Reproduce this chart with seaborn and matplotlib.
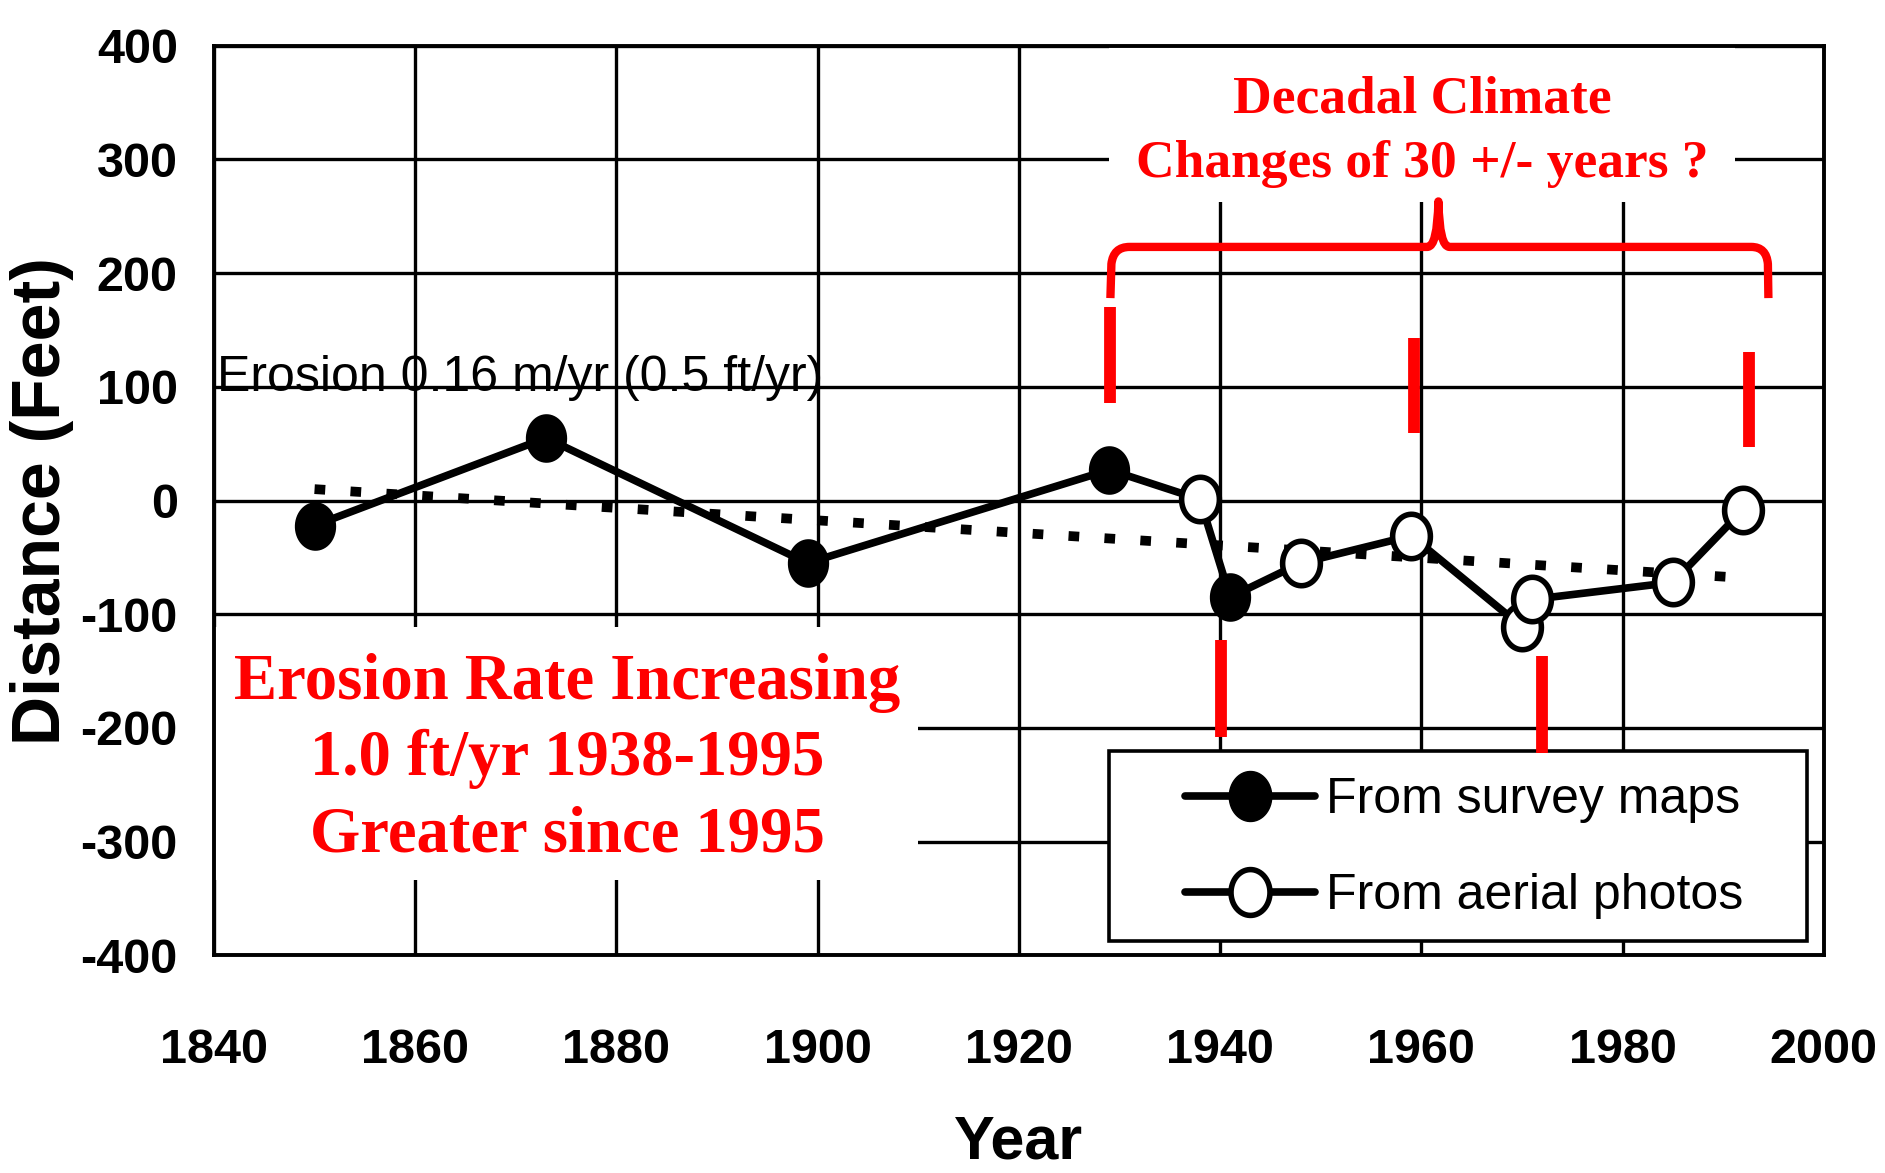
import numpy as np
import pandas as pd
import matplotlib
matplotlib.use("Agg")
import matplotlib.pyplot as plt
from matplotlib.path import Path
from matplotlib.patches import Rectangle, PathPatch
from matplotlib.lines import Line2D
import seaborn as sns

# ---------------- data ----------------
survey_years = [1850, 1873, 1899, 1929, 1941]
survey_dist = [-22, 55, -55, 27, -85]

aerial_years = [1938, 1948, 1959, 1970, 1971, 1985, 1992]
aerial_dist = [1, -55, -31, -111, -87, -72, -8]

trend_years = [1850, 1992]
trend_dist = [10, -68]

x_ticks = [1840, 1860, 1880, 1900, 1920, 1940, 1960, 1980, 2000]
x_tick_labels = ["1840", "1860", "1880", "1900", "1920", "1940", "1960", "1980", "2000"]
y_ticks = [400, 300, 200, 100, 0, -100, -200, -300, -400]
y_tick_labels = ["400", "300", "200", "100", "0", "-100", "-200", "-300", "-400"]

# climate-shift markers (red bars)
shift_years = [1929.05, 1940.1, 1959.3, 1972.0, 1992.6]
shift_top = [170, -123, 143, -137, 131]
shift_bottom = [86, -208, 59, -222, 47]

legend_labels = ["From survey maps", "From aerial photos"]

# ---------------- style ----------------
sns.set_style("white")
plt.rcParams["font.family"] = ["Liberation Sans", "DejaVu Sans"]
plt.rcParams["axes.unicode_minus"] = False
for k in ["text.color", "axes.labelcolor", "xtick.color", "ytick.color"]:
    plt.rcParams[k] = "black"

fig = plt.figure(figsize=(18.85, 11.73), dpi=100)
ax = fig.add_axes([0.1135, 0.1855, 0.854, 0.7756])

# ellipse marker (slightly taller than wide)
t = np.linspace(0, 2 * np.pi, 60)
ell = Path(np.column_stack([0.85 * np.cos(t), np.sin(t)]), closed=True)

all_df = pd.DataFrame({
    "year": survey_years + aerial_years,
    "dist": survey_dist + aerial_dist,
})
survey_df = pd.DataFrame({"year": survey_years, "dist": survey_dist})
aerial_df = pd.DataFrame({"year": aerial_years, "dist": aerial_dist})
trend_df = pd.DataFrame({"year": trend_years, "dist": trend_dist})

sns.lineplot(data=trend_df, x="year", y="dist", ax=ax, color="black", lw=7,
             linestyle=(0, (1.1, 2.6)), estimator=None, zorder=2)
sns.lineplot(data=all_df, x="year", y="dist", ax=ax, color="black", lw=5.5,
             estimator=None, sort=True, zorder=3)
sns.scatterplot(data=survey_df, x="year", y="dist", ax=ax, marker=ell, s=35 ** 2,
                color="black", edgecolor="black", linewidth=0, zorder=4)
sns.scatterplot(data=aerial_df, x="year", y="dist", ax=ax, marker=ell, s=32 ** 2,
                facecolor="white", edgecolor="black", linewidth=4, zorder=4)

ax.set_xlim(1840, 2000)
ax.set_ylim(-400, 400)
ax.set_xticks(x_ticks)
ax.set_xticklabels(x_tick_labels, fontweight="bold")
ax.set_yticks(y_ticks)
ax.set_yticklabels(y_tick_labels, fontweight="bold")
ax.tick_params(axis="x", length=0, pad=52, labelsize=35, labelcolor="black")
ax.tick_params(axis="y", length=0, pad=26, labelsize=35, labelcolor="black")
ax.set_xlabel("")
ax.set_ylabel("")
ax.set_axisbelow(True)
ax.grid(True, color="black", lw=2.4)
for sp in ax.spines.values():
    sp.set_visible(True)
    sp.set_color("black")
    sp.set_linewidth(2.8)

# white boxes hiding grid behind annotations
ax.add_patch(Rectangle((0.556, 0.828), 0.389, 0.172, transform=ax.transAxes,
                       facecolor="white", edgecolor="none", zorder=1))
ax.add_patch(Rectangle((0.0, 0.083), 0.4376, 0.278, transform=ax.transAxes,
                       facecolor="white", edgecolor="none", zorder=1))
ax.add_patch(Rectangle((0.556, 0.016), 0.4335, 0.2086, transform=ax.transAxes,
                       facecolor="white", edgecolor="black", lw=2.6, zorder=1.5))

# legend
handles = [
    Line2D([], [], color="black", lw=5.5, marker=ell, markersize=36,
           markerfacecolor="black", markeredgecolor="black"),
    Line2D([], [], color="black", lw=5.5, marker=ell, markersize=33,
           markerfacecolor="white", markeredgecolor="black", markeredgewidth=4),
]
leg = ax.legend(handles, legend_labels, loc="center left",
                bbox_to_anchor=(0.603, 0.118), frameon=False, fontsize=36,
                handlelength=2.6, handletextpad=0.22, labelspacing=1.0,
                borderpad=0, borderaxespad=0)
leg.set_zorder(6)
for txt in leg.get_texts():
    txt.set_color("black")

# red bars
for yr, top, bot in zip(shift_years, shift_top, shift_bottom):
    ax.plot([yr, yr], [bot, top], color="red", lw=8.5, solid_capstyle="butt", zorder=7)

# red brace
verts = [
    (1929.1, 178), (1929.2, 208),
    (1929.4, 223), (1931.0, 223),
    (1960.6, 223),
    (1961.6, 223), (1961.7, 263),
    (1961.8, 223), (1962.8, 223),
    (1992.8, 223),
    (1994.3, 223), (1994.45, 208),
    (1994.5, 178),
]
codes = [Path.MOVETO, Path.LINETO,
         Path.CURVE3, Path.CURVE3,
         Path.LINETO,
         Path.CURVE3, Path.CURVE3,
         Path.CURVE3, Path.CURVE3,
         Path.LINETO,
         Path.CURVE3, Path.CURVE3,
         Path.LINETO]
ax.add_patch(PathPatch(Path(verts, codes), facecolor="none", edgecolor="red",
                       lw=6, capstyle="butt", joinstyle="round", zorder=7))

# texts
serif = ["Liberation Serif", "DejaVu Serif"]
ax.text(0.7506, 0.927, "Decadal Climate", transform=ax.transAxes, ha="center",
        va="baseline", fontsize=38.5, fontweight="bold", family=serif, color="red", zorder=8)
ax.text(0.7506, 0.856, "Changes of 30 +/- years ?", transform=ax.transAxes, ha="center",
        va="baseline", fontsize=38.5, fontweight="bold", family=serif, color="red", zorder=8)

for txt, yb in zip(["Erosion Rate Increasing", "1.0 ft/yr 1938-1995", "Greater since 1995"],
                   [0.282, 0.198, 0.114]):
    ax.text(0.2195, yb, txt, transform=ax.transAxes, ha="center", va="baseline",
            fontsize=46.5, fontweight="bold", family=serif, color="red", zorder=8)

ax.text(1840.3, 96, "Erosion 0.16 m/yr (0.5 ft/yr)", ha="left", va="baseline",
        fontsize=36, color="black", zorder=8)

fig.text(42 / 1885, 0.573, "Distance (Feet)", rotation=90, ha="center", va="center",
         fontsize=49, fontweight="bold", color="black")
fig.text(0.5405, 0.012, "Year", ha="center", va="baseline", fontsize=44,
         fontweight="bold", color="black")

fig.savefig("out.png", dpi=100, facecolor="white")
